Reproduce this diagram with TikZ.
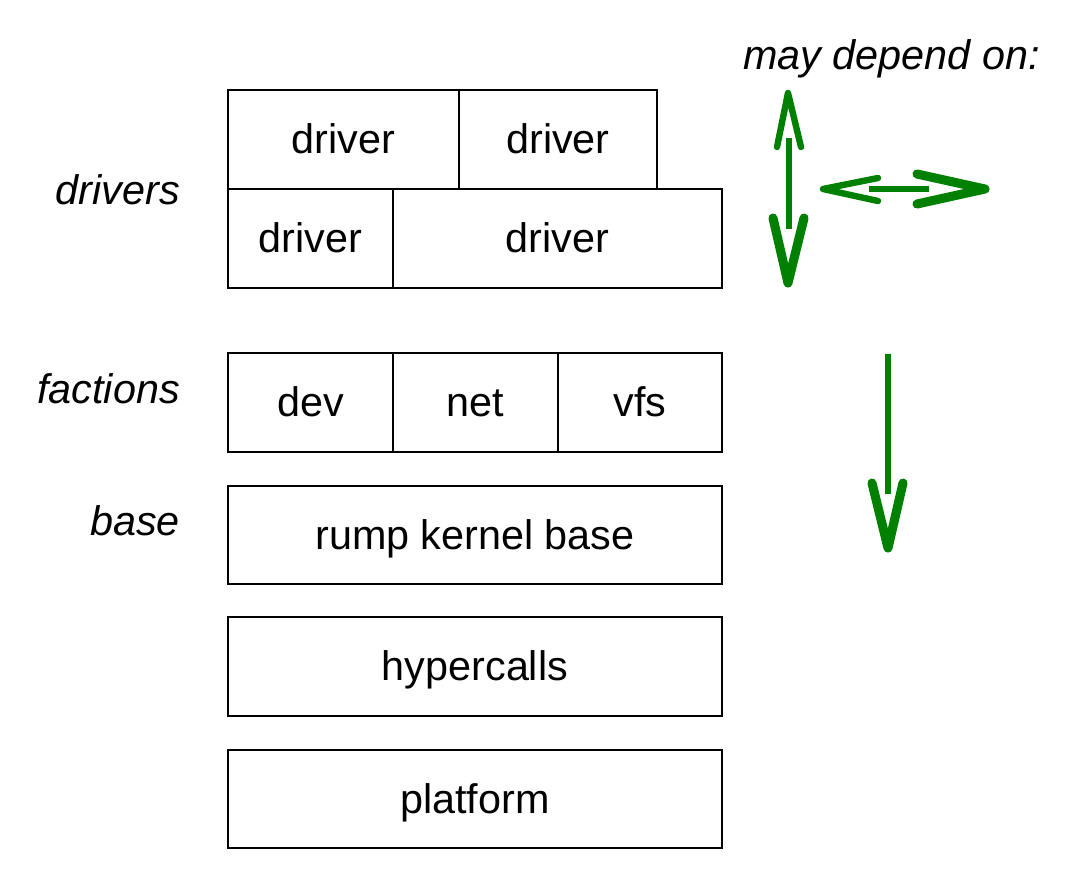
\documentclass[tikz,border=0pt]{standalone}
\usepackage{fontspec}
\setmainfont{Liberation Sans}
\definecolor{arrgreen}{RGB}{0,128,0}
\begin{document}
\begin{tikzpicture}[x=0.75pt,y=-0.75pt,
  every node/.style={font=\fontsize{31}{37}\selectfont, text height=28.06pt, text depth=6.57pt, inner sep=0pt},
  box/.style={draw=black, line width=0.8pt},
  lbl/.style={anchor=east, font=\fontsize{31}{37}\selectfont\itshape},
  shaft/.style={draw=arrgreen, line width=4.6pt},
  headthin/.style={draw=arrgreen, line width=4.8pt, line cap=round, line join=round},
  headthick/.style={draw=arrgreen, line width=6.8pt, line cap=round, line join=round}]
\useasboundingbox (0,0) rectangle (1067,893);
% boxes
\node[box, minimum width=173.25pt, minimum height=74.25pt] (d1) at (343.5,139.5) {driver};
\node[box, minimum width=148.5pt, minimum height=74.25pt] (d2) at (558,139.5) {driver};
\node[box, minimum width=123.75pt, minimum height=74.25pt] (d3) at (310.5,238.5) {driver};
\node[box, minimum width=246.75pt, minimum height=74.25pt] (d4) at (557.5,238.5) {driver};
\node[box, minimum width=123.75pt, minimum height=74.25pt] (dev) at (310.5,402.5) {dev};
\node[box, minimum width=123.75pt, minimum height=74.25pt] (net) at (475.5,402.5) {net};
\node[box, minimum width=123pt, minimum height=74.25pt] (vfs) at (640,402.5) {vfs};
\node[box, minimum width=370.5pt, minimum height=73.5pt] (base) at (475,535) {rump kernel base};
\node[box, minimum width=370.5pt, minimum height=74.25pt] (hyper) at (475,666.5) {hypercalls};
\node[box, minimum width=370.5pt, minimum height=73.5pt] (plat) at (475,799) {platform};
% labels
\node[lbl] (ldrivers) at (180,190) {drivers};
\node[lbl] (lfactions) at (180,389) {factions};
\node[lbl] (lbase) at (180,521) {base};
\node[lbl, anchor=base east] (lmay) at (1040,69) {may depend on:};
% vertical double arrow
\coordinate (vt) at (788,93);
\coordinate (vb) at (788,283);
\draw[shaft] (789,138) -- (789,229);
\draw[headthin] (777,147) -- (vt) -- (801,147);
\draw[headthick] (773,218) -- (vb) -- (804,218);
% horizontal double arrow
\coordinate (hl) at (823,189);
\coordinate (hr) at (985,189);
\draw[shaft] (869,189) -- (929,189);
\draw[headthin] (878,178) -- (hl) -- (878,201);
\draw[headthick] (917,174) -- (hr) -- (917,204);
% down arrow
\coordinate (dt) at (888,354);
\coordinate (db) at (888,548);
\draw[shaft] (dt) -- (888,494);
\draw[headthick] (872,483) -- (db) -- (903,483);
\end{tikzpicture}
\end{document}
